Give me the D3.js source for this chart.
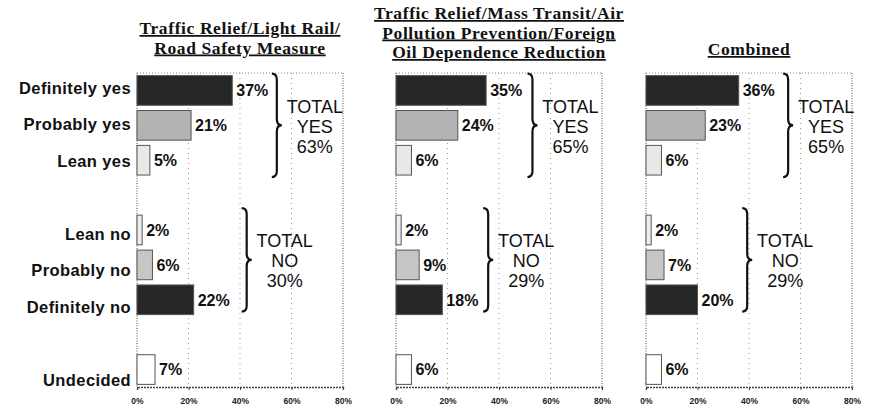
<!DOCTYPE html>
<html>
<head>
<meta charset="utf-8">
<script src="https://cdn.jsdelivr.net/npm/d3@7"></script>
<style>
  body { margin: 0; background: #fff; }
  svg { display: block; }
</style>
</head>
<body>
<svg id="chart" width="871" height="409"></svg>
<script>
// rows of each panel, the two gap keys leave empty slots like in the slide
var rows = ['Definitely yes', 'Probably yes', 'Lean yes', 'gap1', 'Lean no', 'Probably no', 'Definitely no', 'gap2', 'Undecided']
var categories = ['Definitely yes', 'Probably yes', 'Lean yes', 'Lean no', 'Probably no', 'Definitely no', 'Undecided']

var lightRail = [37, 21, 5, 2, 6, 22, 7]
var massTransit = [35, 24, 6, 2, 9, 18, 6]
var combined = [36, 23, 6, 2, 7, 20, 6]

var totalYes = [63, 65, 65]
var totalNo = [30, 29, 29]

var panelTitles = [
  ['Traffic Relief/Light Rail/', 'Road Safety Measure'],
  ['Traffic Relief/Mass Transit/Air', 'Pollution Prevention/Foreign', 'Oil Dependence Reduction'],
  ['Combined']
]
var xTicks = [0, 20, 40, 60, 80]

// look of the bars per category
var barFill = ['#262626', '#b3b3b3', '#e8e8e8', '#eeeeee', '#c6c6c6', '#262626', '#ffffff']

// layout (note: "top" is taken by window.top)
var plotTop = 73
var plotBottom = 387
var panels = [
  {x0: 137, x1: 343, values: lightRail, yesAt: 54.3, noAt: 42.6, titleY: 34},
  {x0: 396, x1: 602, values: massTransit, yesAt: 53, noAt: 35.8, titleY: 19},
  {x0: 646, x1: 852, values: combined, yesAt: 55.2, noAt: 39.3, titleY: 55}
]

var svg = d3.select('#chart')

var y = d3.scaleBand().domain(rows).range([plotTop, plotBottom])
  .paddingInner(0.15).paddingOuter(0.075)
// the row labels sit on a slightly different spacing than the bars
var yLabel = d3.scalePoint().domain(rows).range([plotTop + 15, plotBottom - 7])

// category labels on the left
svg.append('g').selectAll('text')
  .data(categories)
  .enter().append('text')
  .attr('x', 131)
  .attr('y', (d) => yLabel(d))
  .attr('dy', '0.35em')
  .attr('text-anchor', 'end')
  .style('font-family', 'Liberation Sans, Arial, sans-serif')
  .style('font-weight', 'bold')
  .style('font-size', '16.5px')
  .style('letter-spacing', '0.4px')
  .attr('fill', '#111')
  .text((d) => d)

function bracePath (bx, y1, y2) {
  var ym = (y1 + y2) / 2
  var w = 5
  var r = 6
  return 'M' + (bx - w) + ',' + y1 +
    ' Q' + bx + ',' + y1 + ' ' + bx + ',' + (y1 + r) +
    ' L' + bx + ',' + (ym - r) +
    ' Q' + bx + ',' + ym + ' ' + (bx + w) + ',' + ym +
    ' Q' + bx + ',' + ym + ' ' + bx + ',' + (ym + r) +
    ' L' + bx + ',' + (y2 - r) +
    ' Q' + bx + ',' + y2 + ' ' + (bx - w) + ',' + y2
}

panels.forEach(function (p, i) {
  var x = d3.scaleLinear().domain([0, 80]).range([p.x0, p.x1])
  var g = svg.append('g')

  // title, serif bold underlined
  var title = g.append('text')
    .attr('x', (p.x0 + p.x1) / 2)
    .attr('text-anchor', 'middle')
    .style('font-family', 'Liberation Serif, Times New Roman, serif')
    .style('font-weight', 'bold')
    .style('font-size', '17.5px')
    .style('letter-spacing', '0.6px')
    .style('text-decoration', 'underline')
    .attr('fill', '#111')
  panelTitles[i].forEach(function (line, k) {
    title.append('tspan')
      .attr('x', (p.x0 + p.x1) / 2)
      .attr('y', p.titleY + k * 19.5)
      .text(line)
  })

  // dotted grid and frame
  g.selectAll('.grid')
    .data(xTicks.slice(1, -1))
    .enter().append('line')
    .attr('x1', (d) => x(d)).attr('x2', (d) => x(d))
    .attr('y1', plotTop).attr('y2', plotBottom)
    .attr('stroke', '#999').attr('stroke-width', 1)
    .attr('stroke-dasharray', '1,4')
  g.append('line')
    .attr('x1', p.x0).attr('x2', p.x1).attr('y1', plotTop).attr('y2', plotTop)
    .attr('stroke', '#888').attr('stroke-dasharray', '1,2')
  g.append('line')
    .attr('x1', p.x1).attr('x2', p.x1).attr('y1', plotTop).attr('y2', plotBottom)
    .attr('stroke', '#777').attr('stroke-width', 1.3).attr('stroke-dasharray', '1,1.5')
  g.append('line')
    .attr('x1', p.x0).attr('x2', p.x0).attr('y1', plotTop).attr('y2', plotBottom)
    .attr('stroke', '#777').attr('stroke-width', 1.3).attr('stroke-dasharray', '1,1.5')

  // x axis
  var ax = g.append('g')
    .attr('transform', 'translate(0,' + plotBottom + ')')
    .call(d3.axisBottom(x).tickValues(xTicks).tickSize(3).tickPadding(8)
      .tickFormat((d) => d + '%'))
  ax.select('.domain').attr('stroke', '#444').attr('stroke-width', 1.4)
    .attr('stroke-dasharray', '2,1')
  ax.selectAll('line').attr('stroke', '#444')
  ax.selectAll('text')
    .style('font-family', 'Liberation Sans, Arial, sans-serif')
    .style('font-weight', 'bold')
    .style('font-size', '8.5px')
    .attr('fill', '#222')

  // bars
  g.selectAll('.bar')
    .data(p.values)
    .enter().append('rect')
    .attr('x', x(0))
    .attr('y', (d, k) => y(categories[k]))
    .attr('width', (d) => x(d) - x(0))
    .attr('height', y.bandwidth())
    .attr('fill', (d, k) => barFill[k])
    .attr('stroke', '#555')
    .attr('stroke-width', 1)

  // value labels
  g.selectAll('.val')
    .data(p.values)
    .enter().append('text')
    .attr('x', (d) => x(d) + 4)
    .attr('y', (d, k) => y(categories[k]) + y.bandwidth() / 2)
    .attr('dy', '0.36em')
    .style('font-family', 'Liberation Sans, Arial, sans-serif')
    .style('font-weight', 'bold')
    .style('font-size', '16px')
    .attr('fill', '#111')
    .text((d) => d + '%')

  // braces with totals
  var groups = [
    {at: p.yesAt, y1: y('Definitely yes') - 2, y2: y('Lean yes') + y.bandwidth() + 2, lines: ['TOTAL', 'YES', totalYes[i] + '%']},
    {at: p.noAt, y1: y('Lean no') - 7, y2: y('Definitely no') + y.bandwidth() - 3, lines: ['TOTAL', 'NO', totalNo[i] + '%']}
  ]
  groups.forEach(function (b) {
    var bx = x(b.at)
    g.append('path')
      .attr('d', bracePath(bx, b.y1, b.y2))
      .attr('fill', 'none')
      .attr('stroke', '#111')
      .attr('stroke-width', 2.2)
    var ym = (b.y1 + b.y2) / 2
    g.selectAll('.tot' + b.lines[1])
      .data(b.lines)
      .enter().append('text')
      .attr('x', bx + 38)
      .attr('y', (d, k) => ym + (k - 1) * 20 + 1)
      .attr('dy', '0.36em')
      .attr('text-anchor', 'middle')
      .style('font-family', 'Liberation Sans, Arial, sans-serif')
      .style('font-size', '18px')
      .attr('fill', '#111')
      .text((d) => d)
  })
})
</script>
</body>
</html>
